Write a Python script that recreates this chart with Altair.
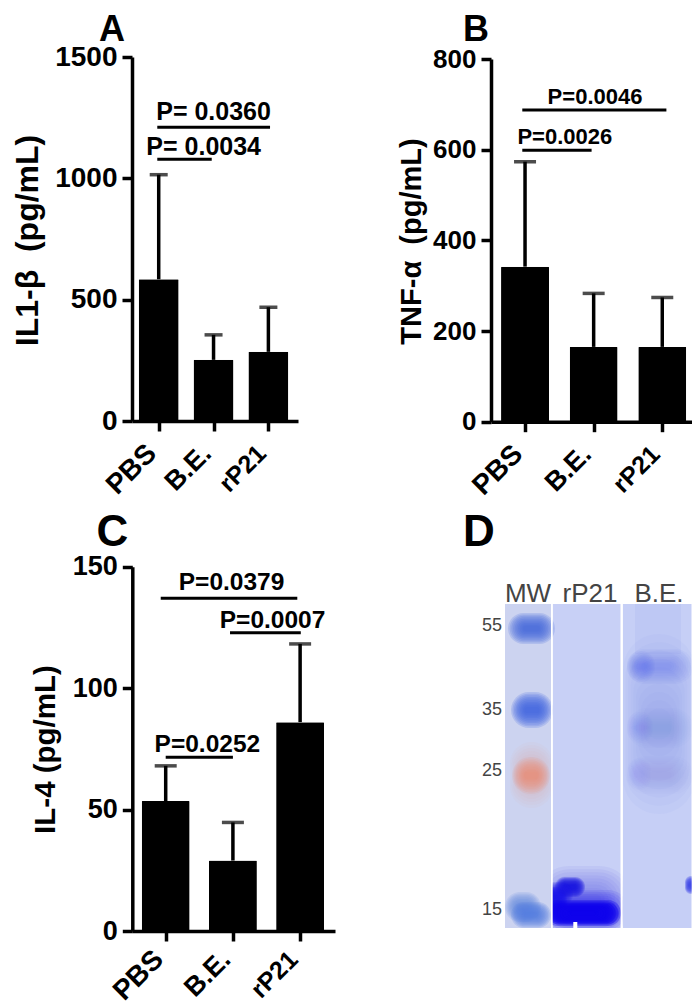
import altair as alt
import pandas as pd

FONT = "Liberation Sans"
categories = ["PBS", "B.E.", "rP21"]
positions = [1, 2, 3]

a_means = [584, 252, 285]
a_tops = [1015, 355, 469]
a_lines = [(0.974, 3.03, 1210), (0.974, 1.967, 1079)]
a_texts = [("P= 0.0360", 2.0, 1241), ("P= 0.0034", 1.82, 1097)]

b_means = [342, 165, 165]
b_tops = [573.5, 283, 274]
b_lines = [(0.96, 3.06, 687.5), (0.96, 1.97, 599)]
b_texts = [("P=0.0046", 2.02, 700.7), ("P=0.0026", 1.58, 612.5)]

c_means = [53.5, 29, 86]
c_tops = [68, 44.7, 118.2]
c_lines = [(0.926, 2.958, 137), (1.957, 3.01, 122.8), (1.0, 2.0, 71.5)]
c_texts = [("P=0.0379", 1.98, 140.4), ("P=0.0007", 2.59, 124.9), ("P=0.0252", 1.62, 73.6)]

lane_labels = [("MW", 23, -2.5), ("rP21", 85, -2.5), ("B.E.", 154, -2.5)]
size_labels = [("55", 27), ("35", 111), ("25", 172), ("15", 311)]

W, H = 684, 1000
LABEL_SIZE = "datum.value==1 ? 28 : datum.value==2 ? 27 : 25"


def panel(letter, letter_x, letter_y, letter_size, means, tops, lines, texts, ymax, yticks, ytitle,
          xrange, yrange, xdom, barw, capw, tick_font, label_pad, title_font, title_x, title_y, p_font):
    df = pd.DataFrame({"pos": positions, "mean": means, "top": tops})
    x_scale = alt.Scale(domain=xdom, range=xrange, nice=False, zero=False, padding=0)
    y_scale = alt.Scale(domain=[0, ymax], range=yrange, nice=False, padding=0)
    x_axis = alt.Axis(
        orient="bottom", offset=yrange[0] - H,
        values=positions, labelExpr="['PBS','B.E.','rP21'][datum.value-1]", title=None, grid=False,
        domainWidth=3.5, domainColor="black", tickWidth=3.5, tickColor="black", tickSize=10,
        labelAngle=315, labelAlign="right", labelBaseline="middle", labelFont=FONT,
        labelFontWeight="bold", labelFontSize=alt.expr(LABEL_SIZE), labelColor="black",
        labelPadding=label_pad, labelOffset=-7, labelOverlap=False, labelBound=False, labelFlush=False)
    y_axis = alt.Axis(
        orient="left", offset=-xrange[0],
        values=yticks, format="d", title=ytitle, grid=False, domainWidth=3.5, domainColor="black",
        tickWidth=3.5, tickColor="black", tickSize=10, labelFont=FONT, labelFontWeight="bold",
        labelFontSize=tick_font, labelColor="black", labelPadding=5, titleFont=FONT,
        titleFontWeight="bold", titleFontSize=title_font, titleColor="black", titleAngle=270,
        titleBaseline="alphabetic", titleAlign="center", titleX=title_x, titleY=title_y)
    base = alt.Chart(df)
    bars = base.mark_bar(size=barw, color="black", orient="vertical", cornerRadius=1).encode(
        x=alt.X("pos:Q", scale=x_scale, axis=x_axis),
        y=alt.Y("mean:Q", scale=y_scale, axis=y_axis))
    stems = base.mark_rule(color="black", strokeWidth=3.5).encode(
        x=alt.X("pos:Q"), y=alt.Y("mean:Q"), y2=alt.Y2("top:Q"))
    caps = base.mark_tick(color="black", orient="horizontal", size=capw, thickness=3.5).encode(
        x=alt.X("pos:Q"), y=alt.Y("top:Q"))
    ldf = pd.DataFrame(lines, columns=["x0", "x1", "y"])
    rules = alt.Chart(ldf).mark_rule(color="black", strokeWidth=3).encode(
        x=alt.X("x0:Q"), x2=alt.X2("x1:Q"), y=alt.Y("y:Q"))
    tdf = pd.DataFrame(texts, columns=["t", "x", "y"])
    ptext = alt.Chart(tdf).mark_text(font=FONT, fontWeight="bold", fontSize=p_font, color="black",
                                     align="center", baseline="alphabetic").encode(
        x=alt.X("x:Q"), y=alt.Y("y:Q"), text="t:N")
    lab = alt.Chart(pd.DataFrame({"t": [letter]})).mark_text(
        font=FONT, fontWeight="bold", fontSize=letter_size, color="black", align="center",
        baseline="alphabetic").encode(x=alt.value(letter_x), y=alt.value(letter_y), text="t:N")
    return alt.layer(bars, stems, caps, rules, ptext, lab)


A = panel("A", 104, 33, 36, a_means, a_tops, a_lines, a_texts, 1500, [0, 500, 1000, 1500],
          "IL1-\u03b2\u00a0 (pg/mL)", [124, 290], [413, 49], [0.513, 3.54], 40, 18, 28, 18, 32, -95, 232, 25)
B = panel("B", 468, 33, 36, b_means, b_tops, b_lines, b_texts, 800, [0, 200, 400, 600, 800],
          "TNF-\u03b1\u00a0 (pg/mL)", [483, 689], [413.7, 51], [0.504, 3.506], 48, 22, 26, 18, 29, -70.3, 233, 22)
C = panel("C", 104.5, 538, 44, c_means, c_tops, c_lines, c_texts, 150, [0, 50, 100, 150],
          "IL-4 (pg/mL)", [124.3, 327], [923, 558.7], [0.503, 3.519], 48, 22, 27, 14, 29.5, -78.3, 741, 24.5)

# ---- gel (panel D) : lanes and stained bands, in gel coordinates
lanes = [("rP21", 47.7, 115.7, (200, 208, 246)), ("B.E.", 117.7, 186.7, (198, 207, 246)),
         ("MW", 0, 46, (204, 211, 240))]
rp21_bands = [
    (30, 128, 262, 330, (85, 85, 235), 0.55),
    (38, 124, 286, 328, (40, 35, 235), 0.7),
    (50, 80, 273, 293, (25, 20, 225), 0.95),
    (38, 68, 278, 302, (30, 25, 230), 0.85),
    (36, 62, 283, 318, (25, 20, 235), 0.9),
    (40, 116, 296, 322, (14, 4, 236), 1.0),
    (42, 114, 299, 320, (14, 4, 236), 0.95),
]
be_bands = [
    (118, 190, 30, 210, (125, 140, 238), 0.4),
    (122, 188, 45, 80, (100, 115, 238), 0.42),
    (122, 150, 47, 78, (75, 90, 235), 0.4),
    (122, 188, 104, 144, (125, 140, 240), 0.3),
    (122, 148, 108, 139, (105, 120, 238), 0.25),
    (122, 188, 152, 190, (130, 145, 240), 0.3),
    (122, 146, 154, 186, (125, 140, 240), 0.2),
    (180, 192, 272, 290, (60, 70, 230), 0.95),
]
mw_bands = [
    (3, 50, 9, 40, (70, 105, 218), 0.88),
    (6, 48, 88, 124, (60, 100, 222), 0.88),
    (5, 48, 138, 204, (235, 160, 140), 0.4),
    (7, 45, 153, 190, (235, 135, 110), 0.72),
    (0, 36, 288, 318, (95, 135, 222), 0.8),
    (6, 46, 298, 324, (85, 125, 222), 0.88),
]
gel_x = alt.Scale(domain=[0, 187], range=[497, 684], nice=False, zero=False, padding=0)
gel_y = alt.Scale(domain=[0, 324], range=[596, 920], nice=False, zero=False, padding=0)


def rect(x0, x1, y0, y1, **mark):
    d = pd.DataFrame({"x0": [x0], "x1": [x1], "y0": [y0], "y1": [y1]})
    return alt.Chart(d).mark_rect(**mark).encode(
        x=alt.X("x0:Q", scale=gel_x, axis=None), x2=alt.X2("x1:Q"),
        y=alt.Y("y0:Q", scale=gel_y, axis=None), y2=alt.Y2("y1:Q"))


def css(rgb):
    return "#%02x%02x%02x" % rgb


def blobs(bands, n=10):
    rows = []
    for x0, x1, y0, y1, rgb, a in bands:
        o = 1 - (1 - min(a, 0.985)) ** (1 / n)
        for i in range(n):
            t = i / n
            dx, dy = t * (x1 - x0) * 0.36, t * (y1 - y0) * 0.46
            rows.append({"x0": x0 + dx, "x1": x1 - dx, "y0": y0 + dy, "y1": y1 - dy,
                         "c": css(rgb), "o": o})
    return alt.Chart(pd.DataFrame(rows)).mark_rect(cornerRadius=60).encode(
        x=alt.X("x0:Q", scale=gel_x, axis=None), x2=alt.X2("x1:Q"),
        y=alt.Y("y0:Q", scale=gel_y, axis=None), y2=alt.Y2("y1:Q"),
        color=alt.Color("c:N", scale=None), opacity=alt.Opacity("o:Q", scale=None))


gel_layers = [
    rect(*lanes[0][1:3], 0, 324, color=css(lanes[0][3])),
    blobs(rp21_bands),
    rect(68.3, 72.3, 318, 324, color="white"),
    rect(*lanes[1][1:3], 0, 324, color=css(lanes[1][3])),
    rect(130, 176, 0, 50, color="#b5c2f2", opacity=0.5),
    blobs(be_bands),
    rect(*lanes[2][1:3], 0, 324, color=css(lanes[2][3])),
    blobs(mw_bands),
    rect(46, 47.7, 0, 324, color="white"),
    rect(115.7, 117.7, 0, 324, color="white"),
    rect(186.7, 192, 0, 324, color="white"),
    rect(30, 130, 324, 330, color="white"),
]

ll = pd.DataFrame(lane_labels, columns=["t", "x", "y"])
gel_layers.append(alt.Chart(ll).mark_text(font=FONT, fontSize=26, color="#444444", align="center",
                                           baseline="alphabetic").encode(
    x=alt.X("x:Q"), y=alt.Y("y:Q"), text="t:N"))
sl = pd.DataFrame(size_labels, columns=["t", "y"])
gel_layers.append(alt.Chart(sl).mark_text(font=FONT, fontSize=18, color="#444444", align="right",
                                           baseline="alphabetic").encode(
    x=alt.value(494), y=alt.Y("y:Q"), text="t:N"))
gel_layers.append(alt.Chart(pd.DataFrame({"t": ["D"]})).mark_text(
    font=FONT, fontWeight="bold", fontSize=44, color="black", align="left",
    baseline="alphabetic").encode(x=alt.value(455), y=alt.value(538), text="t:N"))
D = alt.layer(*gel_layers)

chart = alt.layer(A, B, C, D).resolve_scale(x="independent", y="independent").resolve_axis(
    x="independent", y="independent"
).properties(width=W, height=H, padding=0, autosize=alt.AutoSizeParams(type="none")
).configure_view(stroke=None)

chart.save("out.html", embed_options={"renderer": "svg", "actions": False})
